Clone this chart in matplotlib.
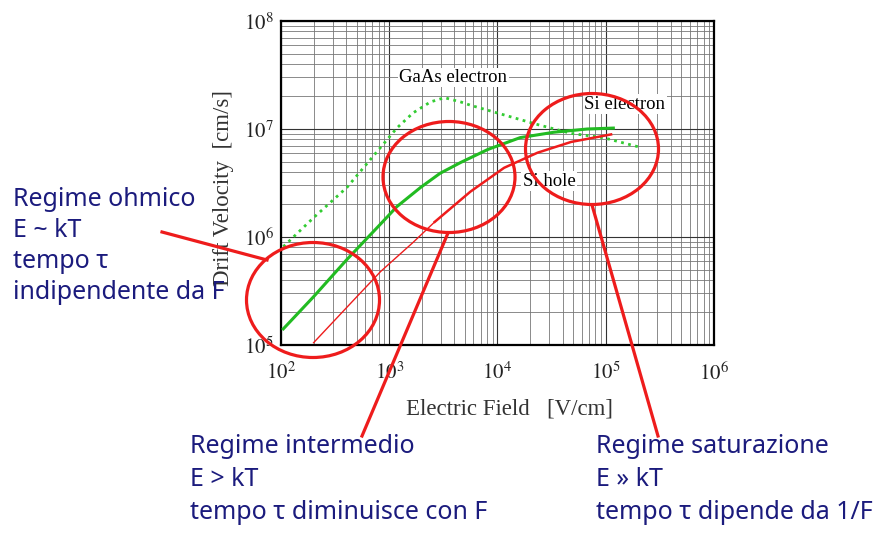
import numpy as np
import matplotlib.pyplot as plt
from matplotlib.patches import Ellipse
from matplotlib.lines import Line2D

plt.rcParams['mathtext.fontset'] = 'stix'

# dati (campo elettrico [V/cm], velocita' [cm/s])
gaas_E = [105, 200, 407, 832, 1175, 1660, 2400, 3240, 4570, 5620, 11500, 23400, 47900, 95500, 209000]
gaas_v = [8.13e5, 1.51e6, 2.88e6, 6.76e6, 1.02e7, 1.41e7, 1.78e7, 1.95e7, 1.78e7, 1.66e7,
          1.35e7, 1.10e7, 9.1e6, 8.3e6, 6.76e6]

si_e_E = [105, 200, 407, 832, 1175, 1950, 2950, 4570, 8130, 16200, 33100, 67600, 117500]
si_e_v = [1.41e5, 2.8e5, 6.2e5, 1.32e6, 1.91e6, 2.88e6, 3.89e6, 4.9e6, 6.46e6, 8.32e6,
          9.33e6, 1.0e7, 1.02e7]

si_h_E = [200, 407, 832, 1660, 2630, 5620, 11500, 23400, 47900, 112000]
si_h_v = [1.05e5, 2.24e5, 4.79e5, 8.91e5, 1.38e6, 2.63e6, 4.37e6, 6.03e6, 7.59e6, 8.91e6]

x_ticks = [1e2, 1e3, 1e4, 1e5, 1e6]
x_tick_labels = [r'$10^{2}$', r'$10^{3}$', r'$10^{4}$', r'$10^{5}$', r'$10^{6}$']
y_ticks = [1e5, 1e6, 1e7, 1e8]
y_tick_labels = [r'$10^{5}$', r'$10^{6}$', r'$10^{7}$', r'$10^{8}$']

left_lines = ['Regime ohmico', 'E ~ kT', 'tempo τ', 'indipendente da F']
mid_lines = ['Regime intermedio', 'E > kT', 'tempo τ diminuisce con F']
right_lines = ['Regime saturazione', 'E » kT', 'tempo τ dipende da 1/F']

serif = ['Liberation Serif', 'DejaVu Serif']
hand = ['Noto Sans', 'DejaVu Sans']
navy = '#1b1b7d'
red = '#ee1c1c'
green = '#22bb22'

fig = plt.figure(figsize=(8.9, 5.42), dpi=100)
ax = fig.add_axes([281/890, 1-345/542, 433/890, 324/542])

ax.set_xscale('log')
ax.set_yscale('log')
ax.set_xlim(1e2, 1e6)
ax.set_ylim(1e5, 1e8)

# curve
ax.plot(gaas_E, gaas_v, color='#33cc33', lw=2, linestyle=(0, (1, 1.6)), zorder=3)
ax.plot(si_e_E, si_e_v, color=green, lw=2.2, zorder=3)
# lacune: tratto sottile a basso campo, poi piu' spesso
ax.plot(si_h_E[:5], si_h_v[:5], color=red, lw=1.0, zorder=3)
ax.plot(si_h_E[4:], si_h_v[4:], color=red, lw=1.8, zorder=3)

# etichette curve
box = dict(facecolor='white', edgecolor='none', pad=1)
ax.text(3900, 3.0e7, 'GaAs electron', family=serif, fontsize=13.5, ha='center', va='center', bbox=box, zorder=4)
ax.text(1.5e5, 1.7e7, 'Si electron', family=serif, fontsize=13.5, ha='center', va='center', bbox=box, zorder=4)
ax.text(3.0e4, 3.3e6, 'Si hole', family=serif, fontsize=13.5, ha='center', va='center', bbox=box, zorder=4)

# griglia
ax.grid(which='major', color='#333333', lw=0.8)
ax.grid(which='minor', color='#777777', lw=0.6)
ax.set_axisbelow(True)
for s in ax.spines.values():
    s.set_linewidth(1.6)

ax.set_xticks(x_ticks)
ax.set_xticklabels(x_tick_labels)
ax.set_yticks(y_ticks)
ax.set_yticklabels(y_tick_labels)
ax.tick_params(which='both', length=0)
ax.tick_params(axis='x', pad=12, labelsize=15, colors='#222222')
ax.tick_params(axis='y', pad=5, labelsize=15, colors='#222222')

fig.text(510/890, 1-409/542, 'Electric Field   [V/cm]', family=serif, fontsize=16.5,
         color='#333333', ha='center', va='center')
fig.text(224/890, 1-188/542, 'Drift Velocity  [cm/s]', family=serif, fontsize=16.5,
         color='#333333', ha='center', va='center', rotation=90)

# overlay in pixel per cerchi e testi
ov = fig.add_axes([0, 0, 1, 1], zorder=10)
ov.set_xlim(0, 890)
ov.set_ylim(542, 0)
ov.axis('off')
ov.patch.set_alpha(0)

for cx, cy, w, h in [(313, 300, 133, 115), (449, 177, 132, 111), (592, 149, 133, 111)]:
    ov.add_patch(Ellipse((cx, cy), w, h, fill=False, edgecolor=red, lw=2.3))

ov.add_line(Line2D([162, 267], [232, 260], color=red, lw=2.3))
ov.add_line(Line2D([448, 362], [233, 436], color=red, lw=2.3))
ov.add_line(Line2D([592, 658], [205, 436], color=red, lw=2.3))

for i, t in enumerate(left_lines):
    ov.text(13, 206 + 31*i, t, family=hand, fontsize=18, color=navy, va='baseline')
for i, t in enumerate(mid_lines):
    ov.text(190, 453 + 33*i, t, family=hand, fontsize=18, color=navy, va='baseline')
for i, t in enumerate(right_lines):
    ov.text(596, 453 + 33*i, t, family=hand, fontsize=18, color=navy, va='baseline')

fig.savefig('out.png', dpi=100)
